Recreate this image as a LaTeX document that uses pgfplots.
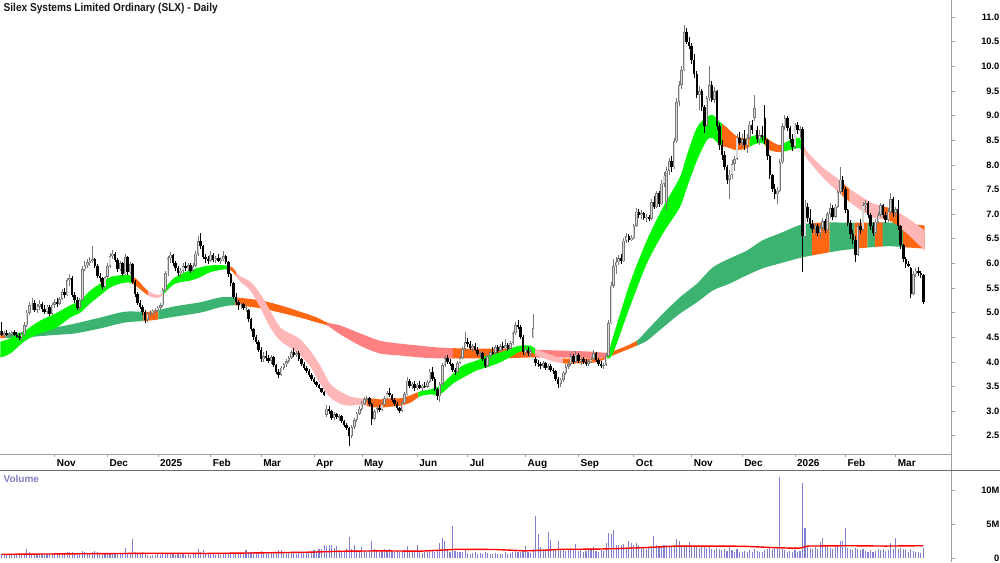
\documentclass[border=0pt]{standalone}
\usepackage{fontspec}
\setmainfont{Liberation Sans}
\usepackage{graphicx}
\usepackage{pgfplots}
\pgfplotsset{compat=1.18}
\usepackage{pgfplotstable}
\usepgfplotslibrary{fillbetween}

\definecolor{sgreen}{RGB}{0,248,0}
\definecolor{lgreen}{RGB}{60,179,113}
\definecolor{orng}{RGB}{255,102,17}
\definecolor{spink}{RGB}{255,182,182}
\definecolor{lsalmon}{RGB}{255,128,128}
\definecolor{upgray}{RGB}{120,120,120}
\definecolor{upfill}{RGB}{215,215,215}
\definecolor{volblue}{RGB}{128,128,210}
\definecolor{vollabel}{RGB}{128,128,192}
\definecolor{axgray}{RGB}{160,160,160}
\definecolor{sepgray}{RGB}{110,110,110}

\pgfplotstableread{
d o h l c v
-21 4.62 4.80 4.52 4.55 0.6
-20 4.55 4.62 4.50 4.58 0.5
-19 4.58 4.64 4.52 4.55 0.6
-18 4.55 4.60 4.49 4.57 0.5
-17 4.57 4.63 4.52 4.60 0.6
-16 4.60 4.64 4.53 4.55 0.5
-15 4.55 4.60 4.48 4.52 0.6
-14 4.52 4.58 4.44 4.50 0.7
-13 4.50 4.60 4.42 4.56 0.6
-12 4.56 4.80 4.52 4.74 0.8
-11 4.74 5.05 4.70 5.00 1.3
-10 5.00 5.22 4.96 5.15 0.9
-9 5.15 5.30 5.05 5.20 0.7
-8 5.20 5.26 5.02 5.06 0.6
-7 5.06 5.18 5.00 5.12 0.6
-6 5.12 5.25 5.05 5.18 0.7
-5 5.18 5.22 5.02 5.08 0.6
-4 5.08 5.15 4.98 5.02 0.5
-3 5.02 5.16 4.98 5.12 0.6
-2 5.12 5.15 4.94 4.98 0.7
-1 4.98 5.20 4.96 5.16 0.6
0 5.16 5.28 5.10 5.22 0.7
1 5.22 5.30 5.12 5.18 0.6
2 5.18 5.32 5.15 5.28 0.7
3 5.28 5.48 5.25 5.42 0.8
4 5.42 5.50 5.30 5.35 0.7
5 5.35 5.70 5.33 5.66 0.9
6 5.66 5.78 5.55 5.70 1.0
7 5.70 5.74 5.32 5.36 0.9
8 5.36 5.42 5.20 5.25 0.8
9 5.25 5.32 5.05 5.10 0.8
10 5.10 5.30 5.04 5.26 0.7
11 5.26 5.95 5.24 5.88 1.1
12 5.88 6.04 5.85 5.96 0.9
13 5.96 6.08 5.90 6.02 0.8
14 6.02 6.12 5.95 6.05 0.8
15 6.05 6.35 6.00 6.08 1.0
16 6.08 6.10 5.90 5.94 1.1
17 5.94 5.98 5.70 5.75 0.9
18 5.75 5.80 5.62 5.70 0.8
19 5.70 5.72 5.45 5.52 0.8
20 5.52 5.75 5.50 5.72 0.7
21 5.72 6.00 5.68 5.95 0.8
22 5.95 6.22 5.90 6.15 0.8
23 6.15 6.28 6.08 6.20 0.7
24 6.20 6.24 6.02 6.06 0.7
25 6.06 6.10 5.82 5.88 0.8
26 5.88 6.05 5.85 6.00 0.7
27 6.00 6.02 5.74 5.78 0.8
28 5.78 6.20 5.76 6.12 1.45
29 6.12 6.15 5.76 5.82 0.8
30 5.82 6.02 5.78 5.98 0.7
31 5.98 6.00 5.58 5.62 2.9
32 5.62 5.66 5.32 5.38 0.9
33 5.38 5.42 5.15 5.20 0.7
34 5.20 5.26 5.08 5.12 0.6
35 5.12 5.15 4.95 5.02 1.0
36 5.02 5.05 4.78 4.85 0.7
37 4.85 5.02 4.82 4.98 0.5
38 4.98 5.05 4.94 5.00 0.4
39 5.00 5.08 4.96 5.04 0.5
40 5.04 5.10 4.98 5.06 0.5
41 5.06 5.14 5.02 5.10 0.6
42 5.10 5.20 5.05 5.15 0.5
43 5.15 5.50 5.12 5.45 0.7
44 5.45 5.85 5.42 5.80 0.8
45 5.80 6.15 5.75 6.10 0.7
46 6.10 6.24 6.00 6.18 0.6
47 6.18 6.20 5.95 6.00 0.6
48 6.00 6.05 5.85 5.90 0.5
49 5.90 5.95 5.74 5.80 0.6
50 5.80 5.90 5.72 5.85 0.5
51 5.85 6.00 5.80 5.95 0.6
52 5.95 6.02 5.85 5.90 0.5
53 5.90 6.00 5.84 5.96 0.6
54 5.96 6.00 5.80 5.85 0.5
55 5.85 6.00 5.82 5.95 0.6
56 5.95 6.25 5.92 6.20 0.8
57 6.20 6.55 6.15 6.45 1.4
58 6.45 6.62 6.30 6.35 0.9
59 6.35 6.38 6.08 6.12 1.2
60 6.12 6.20 6.00 6.08 0.7
61 6.08 6.15 5.98 6.05 0.6
62 6.05 6.25 6.02 6.18 0.6
63 6.18 6.22 6.02 6.06 0.6
64 6.06 6.15 6.00 6.10 0.5
65 6.10 6.20 6.02 6.05 0.6
66 6.05 6.12 5.98 6.08 0.5
67 6.08 6.26 6.05 6.15 0.7
68 6.15 6.18 5.98 6.02 0.6
69 6.02 6.04 5.72 5.78 0.8
70 5.78 5.80 5.55 5.60 0.9
71 5.60 5.62 5.28 5.32 0.8
72 5.32 5.40 5.15 5.22 0.7
73 5.22 5.26 5.05 5.15 0.7
74 5.15 5.22 5.08 5.18 0.6
75 5.18 5.20 5.05 5.10 0.7
76 5.10 5.15 5.02 5.12 1.2
77 5.05 5.08 4.82 4.88 0.9
78 4.88 4.90 4.62 4.66 0.9
79 4.66 4.68 4.45 4.50 1.0
80 4.50 4.55 4.36 4.40 0.8
81 4.40 4.45 4.20 4.25 0.9
82 4.25 4.30 4.00 4.05 1.1
83 4.05 4.20 4.00 4.12 0.9
84 4.12 4.22 4.02 4.08 0.8
85 4.08 4.15 3.98 4.02 0.9
86 4.02 4.15 3.96 4.10 0.8
87 4.10 4.12 3.90 3.94 1.0
88 3.94 3.96 3.75 3.80 0.9
89 3.80 3.86 3.68 3.74 1.2
90 3.74 3.92 3.72 3.88 1.2
91 3.88 3.98 3.84 3.95 0.9
92 3.95 4.06 3.90 4.02 0.8
93 4.02 4.12 3.98 4.08 0.9
94 4.08 4.25 4.05 4.20 1.0
95 4.20 4.28 4.10 4.15 0.8
96 4.15 4.22 4.10 4.18 0.7
97 4.18 4.22 4.02 4.06 0.9
98 4.06 4.08 3.92 3.96 0.8
99 3.96 4.00 3.84 3.88 0.9
100 3.88 3.92 3.78 3.82 0.8
101 3.82 3.85 3.70 3.74 0.9
102 3.74 3.78 3.62 3.66 0.8
103 3.66 3.70 3.56 3.60 1.2
104 3.60 3.62 3.50 3.54 1.0
105 3.54 3.56 3.44 3.46 1.3
106 3.46 3.48 3.36 3.38 1.4
107 3.38 3.40 3.30 3.32 1.9
108 2.92 3.12 2.88 3.05 1.8
109 3.05 3.10 2.95 3.00 1.9
110 3.00 3.02 2.82 2.86 1.9
111 2.86 2.98 2.82 2.94 1.5
112 2.94 2.97 2.84 2.88 1.8
113 2.88 2.95 2.80 2.90 1.2
114 2.90 2.92 2.76 2.80 1.0
115 2.80 2.82 2.68 2.72 1.1
116 2.72 2.75 2.62 2.66 1.3
117 2.66 2.68 2.30 2.50 3.1
118 2.50 2.72 2.46 2.68 1.4
119 2.68 2.86 2.64 2.82 1.9
120 2.82 2.98 2.78 2.95 1.2
121 2.95 3.10 2.92 3.05 1.0
122 3.05 3.20 3.00 3.15 1.6
123 3.15 3.28 3.12 3.24 1.1
124 3.24 3.30 3.18 3.26 1.0
125 3.26 3.28 3.10 3.14 1.1
126 3.14 3.16 2.72 2.85 2.5
127 2.85 3.05 2.82 3.00 1.4
128 3.00 3.10 2.96 3.06 1.1
129 3.06 3.12 2.98 3.02 1.0
130 3.02 3.18 3.00 3.14 1.2
131 3.14 3.30 3.10 3.26 1.3
132 3.26 3.40 3.22 3.36 1.2
133 3.36 3.46 3.28 3.32 1.3
134 3.32 3.34 3.18 3.22 1.1
135 3.22 3.26 3.10 3.14 1.0
136 3.14 3.18 3.02 3.06 1.1
137 3.06 3.08 2.96 3.00 0.9
138 3.00 3.20 2.98 3.16 1.0
139 3.16 3.38 3.14 3.34 1.2
140 3.34 3.70 3.32 3.62 1.8
141 3.62 3.66 3.48 3.52 1.1
142 3.52 3.60 3.44 3.56 0.9
143 3.56 3.62 3.40 3.46 1.0
144 3.46 3.58 3.42 3.54 1.9
145 3.54 3.62 3.44 3.48 1.0
146 3.48 3.56 3.40 3.52 0.8
147 3.52 3.60 3.46 3.50 0.9
148 3.50 3.64 3.46 3.60 1.0
149 3.60 3.86 3.58 3.80 1.2
150 3.80 3.90 3.62 3.66 1.1
151 3.66 3.70 3.40 3.44 1.0
152 3.44 3.48 3.22 3.30 1.2
153 3.30 3.60 3.18 3.55 2.3
154 3.55 3.98 3.52 3.94 3.0
155 3.94 4.12 3.90 4.08 2.6
156 4.08 4.14 3.96 4.00 1.3
157 4.00 4.06 3.92 3.96 1.0
158 3.96 3.98 3.80 3.84 4.8
159 3.84 3.88 3.74 3.80 1.1
160 3.80 4.02 3.78 3.98 1.0
161 3.98 4.12 3.95 4.08 0.9
162 4.08 4.30 4.05 4.26 1.0
163 4.26 4.60 4.22 4.40 1.2
164 4.40 4.48 4.30 4.36 0.8
165 4.36 4.42 4.24 4.28 0.7
166 4.28 4.36 4.20 4.32 0.8
167 4.32 4.38 4.22 4.25 0.9
168 4.25 4.30 4.12 4.16 0.7
169 4.16 4.22 4.08 4.18 0.8
170 4.18 4.20 4.02 4.05 0.6
171 4.05 4.08 3.88 3.92 0.9
172 3.92 4.15 3.90 4.12 0.8
173 4.12 4.24 4.08 4.20 0.7
174 4.20 4.30 4.14 4.18 0.6
175 4.18 4.34 4.15 4.30 0.8
176 4.30 4.35 4.18 4.22 0.7
177 4.22 4.36 4.20 4.32 0.6
178 4.32 4.40 4.24 4.28 0.7
179 4.28 4.46 4.26 4.34 0.9
180 4.34 4.38 4.22 4.26 0.7
181 4.26 4.42 4.24 4.38 0.8
182 4.38 4.62 4.35 4.58 1.0
183 4.58 4.80 4.55 4.74 1.1
184 4.74 4.86 4.66 4.70 0.9
185 4.70 4.74 4.46 4.50 1.0
186 4.50 4.54 4.14 4.20 1.2
187 4.20 4.30 4.12 4.25 1.8
188 4.25 4.30 4.12 4.18 0.9
189 4.18 4.26 4.10 4.22 0.8
190 4.50 4.98 4.48 4.68 1.3
191 4.05 4.10 3.92 3.98 6.2
192 3.98 4.04 3.90 3.96 3.5
193 3.96 4.00 3.86 3.92 1.6
194 3.92 4.02 3.88 3.98 1.3
195 3.98 4.00 3.84 3.88 1.2
196 3.88 3.96 3.84 3.92 3.8
197 3.92 3.95 3.80 3.84 2.7
198 3.84 3.88 3.76 3.82 1.2
199 3.82 3.84 3.62 3.66 1.4
200 3.66 3.70 3.48 3.55 2.6
201 3.55 3.68 3.50 3.64 1.3
202 3.64 3.82 3.60 3.78 1.2
203 3.78 3.95 3.74 3.90 1.1
204 3.90 4.02 3.86 3.96 1.3
205 3.96 4.18 3.92 4.12 1.5
206 4.12 4.16 3.96 4.00 1.2
207 4.00 4.22 3.98 4.15 2.1
208 4.15 4.18 3.98 4.02 1.1
209 4.02 4.08 3.94 4.05 1.2
210 4.05 4.10 3.96 4.00 1.0
211 4.00 4.06 3.92 3.96 1.1
212 3.96 4.04 3.92 4.02 1.3
213 4.02 4.10 3.98 4.06 1.2
214 4.06 4.24 4.04 4.18 1.6
215 4.18 4.20 4.00 4.04 1.1
216 4.04 4.08 3.92 3.96 1.0
217 3.96 4.02 3.88 3.92 1.2
218 3.92 3.98 3.86 3.94 1.1
219 3.94 4.18 3.92 4.12 2.3
220 4.12 4.86 4.10 4.78 3.7
221 4.78 5.62 4.76 5.55 3.6
222 5.55 6.08 5.50 5.95 4.2
223 5.95 6.12 5.78 6.02 2.0
224 6.02 6.18 5.96 6.10 2.0
225 6.10 6.20 5.98 6.04 1.9
226 6.04 6.52 6.02 6.46 2.1
227 6.46 6.62 6.42 6.55 1.6
228 6.55 6.60 6.44 6.48 2.5
229 6.48 6.58 6.45 6.52 2.2
230 6.52 6.80 6.50 6.76 2.0
231 6.76 7.12 6.74 7.05 2.3
232 7.05 7.10 6.92 6.98 2.0
233 6.98 7.08 6.90 7.02 1.6
234 7.02 7.05 6.88 6.92 1.5
235 6.92 7.00 6.85 6.95 1.4
236 6.95 6.98 6.86 6.90 1.5
237 6.90 7.30 6.88 7.25 1.8
238 7.25 7.36 7.10 7.15 3.3
239 7.15 7.48 7.12 7.42 1.9
240 7.42 7.46 7.15 7.20 1.7
241 7.20 7.70 7.18 7.62 1.8
242 7.62 7.85 7.55 7.78 1.9
243 7.25 7.96 7.08 7.88 2.0
244 7.88 8.15 7.80 8.08 1.8
245 8.08 8.18 7.85 7.95 1.7
246 7.95 8.55 7.92 8.48 1.9
247 8.48 9.35 8.45 9.28 2.9
248 9.28 9.70 9.20 9.62 2.5
249 9.62 10.00 9.55 9.92 1.9
250 9.92 10.85 9.90 10.70 2.0
251 10.70 10.78 10.45 10.50 1.9
252 10.50 10.60 10.35 10.42 2.4
253 10.42 10.48 10.05 10.12 1.9
254 10.12 10.25 9.76 9.85 1.8
255 9.85 9.90 9.35 9.42 1.7
256 9.42 9.60 9.12 9.50 1.5
257 9.50 9.55 9.10 9.18 1.6
258 9.18 9.22 8.64 8.80 1.7
259 8.80 9.40 8.78 9.35 1.5
260 9.35 10.00 9.30 9.62 1.6
261 9.62 9.70 9.28 9.32 1.4
262 9.32 9.58 9.25 9.50 1.2
263 9.50 9.52 8.70 8.78 1.5
264 8.78 8.85 8.30 8.40 1.3
265 8.40 8.50 8.10 8.20 1.2
266 8.20 8.28 7.90 7.96 1.4
267 7.96 8.00 7.62 7.70 1.1
268 7.70 7.90 7.30 7.80 1.6
269 7.80 8.10 7.72 8.02 1.2
270 8.02 8.18 7.88 8.12 0.9
271 8.12 8.62 8.10 8.55 1.3
272 8.55 8.66 8.40 8.45 1.0
273 8.45 8.62 8.36 8.52 0.9
274 8.52 8.70 8.30 8.40 1.1
275 8.40 8.62 8.24 8.55 1.0
276 8.55 8.90 8.50 8.82 1.2
277 8.82 8.92 8.62 8.70 0.9
278 8.95 9.42 8.90 9.15 1.3
279 8.70 8.78 8.45 8.52 1.1
280 8.52 8.70 8.40 8.60 0.9
281 8.60 8.78 8.48 8.56 1.0
282 8.95 9.22 8.42 8.50 1.2
283 8.50 8.52 8.10 8.18 1.4
284 8.18 8.20 7.72 7.80 1.6
285 7.80 7.82 7.45 7.52 1.3
286 7.52 7.62 7.30 7.40 1.7
287 7.40 7.55 7.20 7.48 1.5
288 7.48 8.12 7.45 8.05 11.9
289 8.05 8.85 8.02 8.78 1.4
290 8.78 9.02 8.70 8.95 1.2
291 8.95 9.00 8.68 8.74 1.0
292 8.74 8.80 8.45 8.52 1.1
293 8.52 8.62 8.28 8.36 0.9
294 8.36 8.85 8.32 8.80 1.2
295 8.80 8.88 8.62 8.70 1.0
296 8.70 8.78 8.55 8.72 1.1
297 8.72 8.76 5.82 6.55 11.0
298 6.55 7.28 6.52 7.15 4.5
299 7.15 7.22 6.85 6.92 1.8
300 6.92 7.10 6.72 6.80 1.5
301 6.80 6.88 6.62 6.70 1.4
302 6.70 6.82 6.58 6.76 1.6
303 6.76 6.80 6.55 6.62 1.3
304 6.62 6.78 6.52 6.72 2.4
305 6.72 6.92 6.66 6.86 3.0
306 6.86 6.90 6.62 6.68 1.9
307 6.68 7.05 6.66 7.00 1.7
308 7.00 7.22 6.92 7.12 1.5
309 7.12 7.18 6.88 6.95 1.4
310 6.95 7.20 6.92 7.15 1.6
311 7.15 7.50 7.12 7.45 1.8
312 7.45 7.95 7.40 7.70 2.6
313 7.70 7.78 7.45 7.52 2.5
314 7.52 7.56 7.02 7.08 4.5
315 7.08 7.10 6.75 6.82 1.5
316 6.82 6.88 6.50 6.60 1.4
317 6.60 6.68 6.40 6.48 1.2
318 6.48 6.55 6.02 6.18 1.5
319 6.18 6.82 6.15 6.75 1.3
320 6.75 6.90 6.60 6.68 1.2
321 6.68 7.25 6.65 7.18 1.4
322 7.18 7.28 7.05 7.22 1.1
323 7.22 7.26 6.92 6.98 1.0
324 6.98 7.02 6.68 6.75 1.2
325 6.75 6.85 6.55 6.62 1.0
326 6.62 6.90 6.60 6.85 1.1
327 6.85 7.05 6.80 6.98 1.3
328 6.98 7.22 6.95 7.18 1.2
329 7.18 7.20 6.92 6.98 1.4
330 6.98 7.05 6.82 6.88 1.1
331 6.88 7.12 6.85 7.05 1.2
332 7.05 7.42 7.00 7.30 2.3
333 7.30 7.34 6.95 7.02 1.3
334 7.02 7.15 6.95 7.10 3.0
335 7.10 7.28 6.68 6.75 1.4
336 6.75 6.78 6.30 6.38 1.5
337 6.38 6.40 6.02 6.08 1.3
338 6.08 6.12 5.90 5.98 1.2
339 5.98 6.04 5.92 5.96 1.0
340 5.90 5.92 5.30 5.38 1.4
341 5.38 5.84 5.36 5.78 1.1
342 5.78 5.90 5.72 5.85 0.9
343 5.85 5.92 5.74 5.80 1.0
344 5.80 5.84 5.70 5.76 0.8
345 5.76 5.78 5.18 5.22 1.5
}\data

\pgfplotstableread{
d t b
-21.5 4.41 4.09
-17.6 4.48 4.17
-11.6 4.64 4.43
-5.7 4.84 4.58
0.3 4.98 4.68
6.2 5.15 4.90
10.2 5.25 5.00
14.2 5.45 5.19
18.1 5.59 5.35
22.1 5.72 5.51
26.1 5.76 5.59
30.0 5.76 5.61
33.2 5.65 5.51
36.0 5.49 5.39
38.8 5.39 5.31
41.9 5.37 5.31
43.9 5.51 5.41
47.9 5.72 5.59
53.8 5.86 5.65
57.8 5.92 5.72
61.8 5.96 5.82
67.7 5.96 5.88
70.5 5.92 5.84
73.7 5.74 5.63
77.7 5.63 5.45
81.6 5.39 5.11
85.6 5.04 4.70
89.6 4.70 4.43
93.5 4.58 4.29
97.5 4.46 4.13
101.5 4.23 3.91
105.4 3.93 3.56
109.4 3.56 3.28
113.4 3.40 3.15
117.3 3.30 3.11
121.3 3.26 3.13
125.3 3.26 3.09
129.2 3.24 3.07
133.2 3.26 3.09
137.2 3.26 3.11
141.2 3.32 3.17
145.1 3.40 3.30
149.1 3.44 3.34
153.1 3.52 3.34
158.2 3.76 3.56
162.2 3.93 3.68
167.7 4.03 3.83
171.7 4.13 3.89
176.9 4.19 3.99
182.0 4.29 4.13
184.8 4.33 4.21
188.8 4.33 4.21
191.6 4.25 4.13
196.7 4.15 4.03
201.9 4.07 3.97
208.6 4.07 3.97
214.7 4.07 3.99
219.3 4.11 4.07
221.7 4.50 4.17
228.4 5.59 5.11
235.2 6.47 6.00
241.6 7.14 6.61
248.3 7.75 7.14
251.1 8.20 7.54
255.1 8.76 8.09
259.0 8.97 8.50
261.4 9.01 8.54
264.2 8.87 8.40
266.9 8.76 8.36
270.9 8.58 8.30
274.9 8.54 8.34
278.0 8.60 8.42
281.2 8.60 8.44
284.0 8.50 8.30
288.0 8.40 8.26
291.9 8.50 8.30
295.9 8.54 8.34
298.7 8.28 8.13
305.0 7.95 7.75
311.8 7.69 7.42
314.9 7.54 7.28
318.5 7.42 7.14
324.9 7.22 6.93
331.6 7.12 6.87
338.4 6.93 6.61
345.5 6.67 6.26
}\Sband

\pgfplotstableread{
d t b
-21.5 4.58 4.48
-11.6 4.60 4.50
-1.7 4.68 4.54
8.2 4.78 4.58
18.1 4.90 4.68
28.1 5.02 4.80
38.0 5.02 4.84
47.9 5.13 4.92
57.8 5.21 5.00
65.8 5.31 5.11
71.7 5.31 5.15
81.6 5.25 5.09
89.6 5.15 5.00
97.5 5.02 4.90
104.2 4.90 4.80
108.2 4.80 4.74
113.4 4.74 4.56
121.3 4.58 4.33
129.2 4.43 4.17
137.2 4.37 4.13
145.1 4.33 4.09
153.1 4.29 4.07
165.0 4.27 4.07
176.9 4.27 4.07
188.8 4.25 4.09
200.7 4.23 4.09
212.6 4.21 4.07
219.3 4.19 4.09
224.5 4.27 4.19
231.2 4.43 4.33
235.2 4.64 4.43
241.6 4.98 4.70
248.3 5.31 4.98
255.1 5.59 5.21
261.4 5.92 5.45
268.1 6.10 5.59
274.9 6.26 5.76
281.2 6.47 5.90
288.0 6.61 6.00
296.7 6.79 6.12
305.0 6.83 6.20
311.8 6.83 6.26
318.5 6.83 6.30
324.9 6.83 6.33
331.6 6.83 6.35
336.8 6.81 6.33
345.5 6.77 6.30
}\Lband

\newcommand\band[4]{\addplot[fill=#1, draw=none, forget plot] fill between[of=#2, soft clip={(axis cs:#3,0) rectangle (axis cs:#4,20)}];}

\pgfplotsset{
  cndl/.style={draw=none, mark=none, forget plot,
    error bars/y dir=both, error bars/y explicit, error bars/error mark=none,
    error bars/error mark options={draw=none, fill=none, mark size=0pt}},
  ticklab/.style={font=\fontsize{9.3}{11}\selectfont\bfseries, text=black},
}

\begin{document}
\begin{tikzpicture}
\path (0pt,0pt) rectangle (1000pt,562pt);

\begin{axis}[
  at={(0pt,108pt)}, anchor=south west,
  width=952pt, height=454pt, scale only axis,
  xmin=-21.5, xmax=356.2, ymin=2.13, ymax=11.34,
  axis x line*=bottom, axis y line*=right,
  axis line style={draw=axgray, line width=0.8pt},
  tick style={draw=axgray, line width=0.6pt},
  tick align=outside, major tick length=3pt,
  xtick={0,21,41,62,82,103,122,144,164,187,208,230,253,273,294,314,334},
  xticklabels={Nov,Dec,2025,Feb,Mar,Apr,May,Jun,Jul,Aug,Sep,Oct,Nov,Dec,2026,Feb,Mar},
  xticklabel style={font=\fontsize{10}{12}\selectfont\bfseries, text=black, anchor=base west, inner sep=0pt, xshift=2pt, yshift=-10pt},
  ytick={2.5,3,...,11},
  yticklabel={\pgfmathprintnumber[fixed,fixed zerofill,precision=1]{\tick}},
  yticklabel style={ticklab, anchor=east, inner sep=0pt, xshift=45pt},
  /pgf/number format/assume math mode=true,
]
\addplot[name path=Lt, draw=none, smooth, forget plot] table[x=d,y=t]{\Lband};
\addplot[name path=Lb, draw=none, smooth, forget plot] table[x=d,y=b]{\Lband};
\addplot[name path=St, draw=none, smooth, forget plot] table[x=d,y=t]{\Sband};
\addplot[name path=Sb, draw=none, smooth, forget plot] table[x=d,y=b]{\Sband};

\band{orng}{Lt and Lb}{-21.6}{-19.4}
\band{lgreen}{Lt and Lb}{-19.4}{35.3}
\band{orng}{Lt and Lb}{35.3}{41.2}
\band{lgreen}{Lt and Lb}{41.2}{71.7}
\band{orng}{Lt and Lb}{71.7}{108.2}
\band{lsalmon}{Lt and Lb}{108.2}{158.2}
\band{orng}{Lt and Lb}{158.2}{190.8}
\band{lsalmon}{Lt and Lb}{190.8}{219.3}
\band{orng}{Lt and Lb}{219.3}{231.2}
\band{lgreen}{Lt and Lb}{231.2}{300.7}
\band{orng}{Lt and Lb}{300.7}{307.8}
\band{lgreen}{Lt and Lb}{307.8}{317.7}
\band{orng}{Lt and Lb}{317.7}{322.9}
\band{lgreen}{Lt and Lb}{322.9}{325.7}
\band{orng}{Lt and Lb}{325.7}{328.8}
\band{lgreen}{Lt and Lb}{328.8}{336.8}
\band{orng}{Lt and Lb}{336.8}{345.6}

\band{sgreen}{St and Sb}{-21.6}{31}
\band{orng}{St and Sb}{31}{37}
\band{spink}{St and Sb}{37}{43}
\band{sgreen}{St and Sb}{43}{68.5}
\band{orng}{St and Sb}{68.5}{72}
\band{spink}{St and Sb}{72}{124}
\band{orng}{St and Sb}{124}{144.5}
\band{sgreen}{St and Sb}{144.5}{190.8}
\band{spink}{St and Sb}{190.8}{201.9}
\band{orng}{St and Sb}{201.9}{219.3}
\band{sgreen}{St and Sb}{219.3}{265}
\band{orng}{St and Sb}{265}{276}
\band{sgreen}{St and Sb}{276}{282}
\band{orng}{St and Sb}{282}{288.8}
\band{sgreen}{St and Sb}{288.8}{296.7}
\band{spink}{St and Sb}{296.7}{312.6}
\band{orng}{St and Sb}{312.6}{315.7}
\band{spink}{St and Sb}{315.7}{328.8}
\band{orng}{St and Sb}{328.8}{335.6}
\band{spink}{St and Sb}{335.6}{345.6}

\addplot[cndl, error bars/error bar style={line width=0.8pt, draw=upgray},
  restrict expr to domain={\thisrow{c}-\thisrow{o}}{0:100}]
  table[x=d, y expr={(\thisrow{h}+\thisrow{l})/2}, y error expr={(\thisrow{h}-\thisrow{l})/2}]{\data};
\addplot[cndl, error bars/error bar style={line width=0.8pt, draw=black},
  restrict expr to domain={\thisrow{o}-\thisrow{c}}{0.0001:100}]
  table[x=d, y expr={(\thisrow{h}+\thisrow{l})/2}, y error expr={(\thisrow{h}-\thisrow{l})/2}]{\data};
\addplot[cndl, error bars/error bar style={line width=2.5pt, draw=upgray},
  restrict expr to domain={\thisrow{c}-\thisrow{o}}{0:100}]
  table[x=d, y expr={(\thisrow{o}+\thisrow{c})/2}, y error expr={(\thisrow{c}-\thisrow{o})/2}]{\data};
\addplot[cndl, error bars/error bar style={line width=1.1pt, draw=upfill},
  restrict expr to domain={\thisrow{c}-\thisrow{o}}{0:100}]
  table[x=d, y expr={(\thisrow{o}+\thisrow{c})/2}, y error expr={max((\thisrow{c}-\thisrow{o})/2-0.014,0)}]{\data};
\addplot[cndl, error bars/error bar style={line width=2.5pt, draw=black},
  restrict expr to domain={\thisrow{o}-\thisrow{c}}{0.0001:100}]
  table[x=d, y expr={(\thisrow{o}+\thisrow{c})/2}, y error expr={(\thisrow{o}-\thisrow{c})/2}]{\data};
\end{axis}

\begin{axis}[
  at={(0pt,0pt)}, anchor=south west,
  width=952pt, height=92pt, scale only axis,
  xmin=-21.5, xmax=356.2, ymin=-0.51, ymax=12.9,
  axis x line=none, axis y line*=right,
  axis line style={draw=axgray, line width=0.8pt},
  tick style={draw=axgray, line width=0.6pt},
  tick align=outside, major tick length=3pt,
  ytick={0,5,10}, yticklabels={0,5M,10M},
  yticklabel style={ticklab, anchor=east, inner sep=0pt, xshift=45pt},
]
\addplot[ycomb, draw=volblue, line width=1.1pt, forget plot] table[x=d,y=v]{\data};
\addplot[draw=red, line width=1.4pt, forget plot] coordinates {
(-21,0.6) (0,0.65) (20,0.7) (40,0.75) (60,0.72) (80,0.8) (100,0.9) (115,1.05) (130,1.1) (145,1.05) (160,1.33) (175,1.3) (187,1.1) (195,1.2) (201,1.33) (215,1.35) (225,1.45) (234,1.57) (247,1.8) (268,1.8) (275,1.75) (284,1.6) (292,1.5) (296,1.5) (299,1.8) (315,1.85) (330,1.8) (345,1.85)};
\end{axis}

\draw[draw=axgray, line width=0.8pt] (952pt,0pt) -- (952pt,562pt);
\draw[draw=sepgray, line width=0.9pt] (0pt,92pt) -- (1000pt,92pt);

\node[anchor=north west, inner sep=0pt, font=\fontsize{11.5}{13}\selectfont\bfseries, text=black!90] at (3pt,559pt)
  {\scalebox{0.88}[1]{Silex Systems Limited Ordinary (SLX) - Daily}};
\node[anchor=north west, inner sep=0pt, font=\fontsize{10}{12}\selectfont\bfseries, text=vollabel] at (3pt,87pt) {Volume};
\end{tikzpicture}
\end{document}
